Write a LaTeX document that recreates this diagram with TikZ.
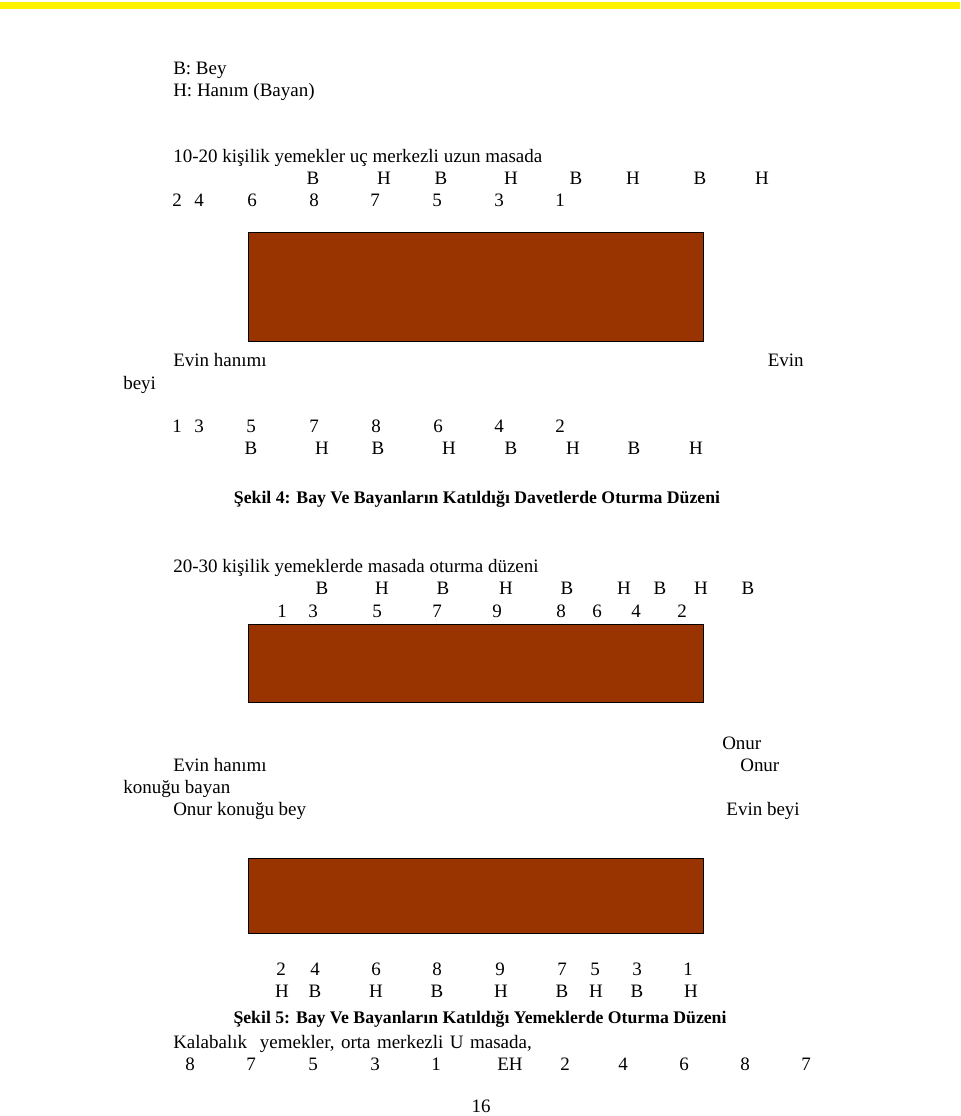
\documentclass[tikz,border=0pt]{standalone}
\usepackage{fontspec}
\setmainfont{Liberation Serif}
\definecolor{masa}{HTML}{993300}
\definecolor{serit}{HTML}{FFF200}
\begin{document}
\begin{tikzpicture}[x=0.025cm, y=-0.025cm,
  txt/.style={inner sep=0pt, anchor=base west, font=\fontsize{13.5}{16}\selectfont},
  txtr/.style={txt, anchor=base east},
  seat/.style={inner sep=0pt, anchor=base, font=\fontsize{13.5}{16}\selectfont},
  caption/.style={seat, font=\fontsize{12.6}{15}\selectfont\bfseries},
  masabox/.style={draw=black, fill=masa, line width=0.7pt}]
  \useasboundingbox (0,0) rectangle (960,1116);

  % Top band
  \fill[serit] (0,2) rectangle (960,9);

  % Legend
  \node[txt] (leg1) at (173,75) {B: Bey};
  \node[txt] (leg2) at (173,97) {H: Hanım (Bayan)};

  % Long table, 10-20 persons
  \node[txt] (title1) at (173,163) {10-20 kişilik yemekler uç merkezli uzun masada};
  \foreach \x/\t [count=\i] in {313/B, 384/H, 441/B, 511/H, 576/B, 633/H, 700/B, 762/H}
    \node[seat] (t1s\i) at (\x,185) {\t};
  \foreach \x/\t [count=\i] in {177/2, 199/4, 252/6, 314/8, 375/7, 437/5, 499/3, 560/1}
    \node[seat] (t1n\i) at (\x,207) {\t};
  \draw[masabox] (248,232) rectangle (703,341);
  \node[txt] (host1) at (173,366) {Evin hanımı};
  \node[txtr] (host2) at (804,366) {Evin};
  \node[txt] (host3) at (123,389) {beyi};
  \foreach \x/\t [count=\i] in {177/1, 199/3, 251/5, 314/7, 376/8, 438/6, 499/4, 560/2}
    \node[seat] (t1b\i) at (\x,432) {\t};
  \foreach \x/\t [count=\i] in {251/B, 322/H, 378/B, 449/H, 511/B, 573/H, 634/B, 696/H}
    \node[seat] (t1c\i) at (\x,454) {\t};
  \node[caption] (cap4) at (477,503) {Şekil 4: Bay Ve Bayanların Katıldığı Davetlerde Oturma Düzeni};

  % Table for 20-30 persons
  \node[txt] (title2) at (173,572) {20-30 kişilik yemeklerde masada oturma düzeni};
  \foreach \x/\t [count=\i] in {322/B, 382/H, 443/B, 506/H, 567/B, 624/H, 660/B, 701/H, 748/B}
    \node[seat] (t2s\i) at (\x,594) {\t};
  \foreach \x/\t [count=\i] in {282/1, 313/3, 377/5, 437/7, 497/9, 561/8, 597/6, 636/4, 682/2}
    \node[seat] (t2n\i) at (\x,617) {\t};
  \draw[masabox] (248,624) rectangle (703,702);
  \node[txt] (gst1) at (722,749) {Onur};
  \node[txt] (gst2) at (173,771) {Evin hanımı};
  \node[txt] (gst3) at (740,771) {Onur};
  \node[txt] (gst4) at (123,793) {konuğu bayan};
  \node[txt] (gst5) at (173,815) {Onur konuğu bey};
  \node[txtr] (gst6) at (800,815) {Evin beyi};
  \draw[masabox] (248,858) rectangle (703,933);
  \foreach \x/\t [count=\i] in {281/2, 315/4, 376/6, 437/8, 500/9, 562/7, 595/5, 637/3, 688/1}
    \node[seat] (t2b\i) at (\x,975) {\t};
  \foreach \x/\t [count=\i] in {282/H, 315/B, 376/H, 437/B, 501/H, 562/B, 596/H, 637/B, 691/H}
    \node[seat] (t2c\i) at (\x,997) {\t};
  \node[caption] (cap5) at (480,1023) {Şekil 5: Bay Ve Bayanların Katıldığı Yemeklerde Oturma Düzeni};

  % U table
  \node[txt] (title3) at (173,1048) {\spaceskip=0.34em Kalabalık\ \ yemekler, orta merkezli U masada,};
  \foreach \x/\t [count=\i] in {190/8, 251/7, 313/5, 375/3, 436/1, 510/EH, 565/2, 623/4, 684/6, 745/8, 806/7}
    \node[seat] (t3n\i) at (\x,1070) {\t};

  % Page number
  \node[seat] (page) at (481,1112) {16};
\end{tikzpicture}
\end{document}
